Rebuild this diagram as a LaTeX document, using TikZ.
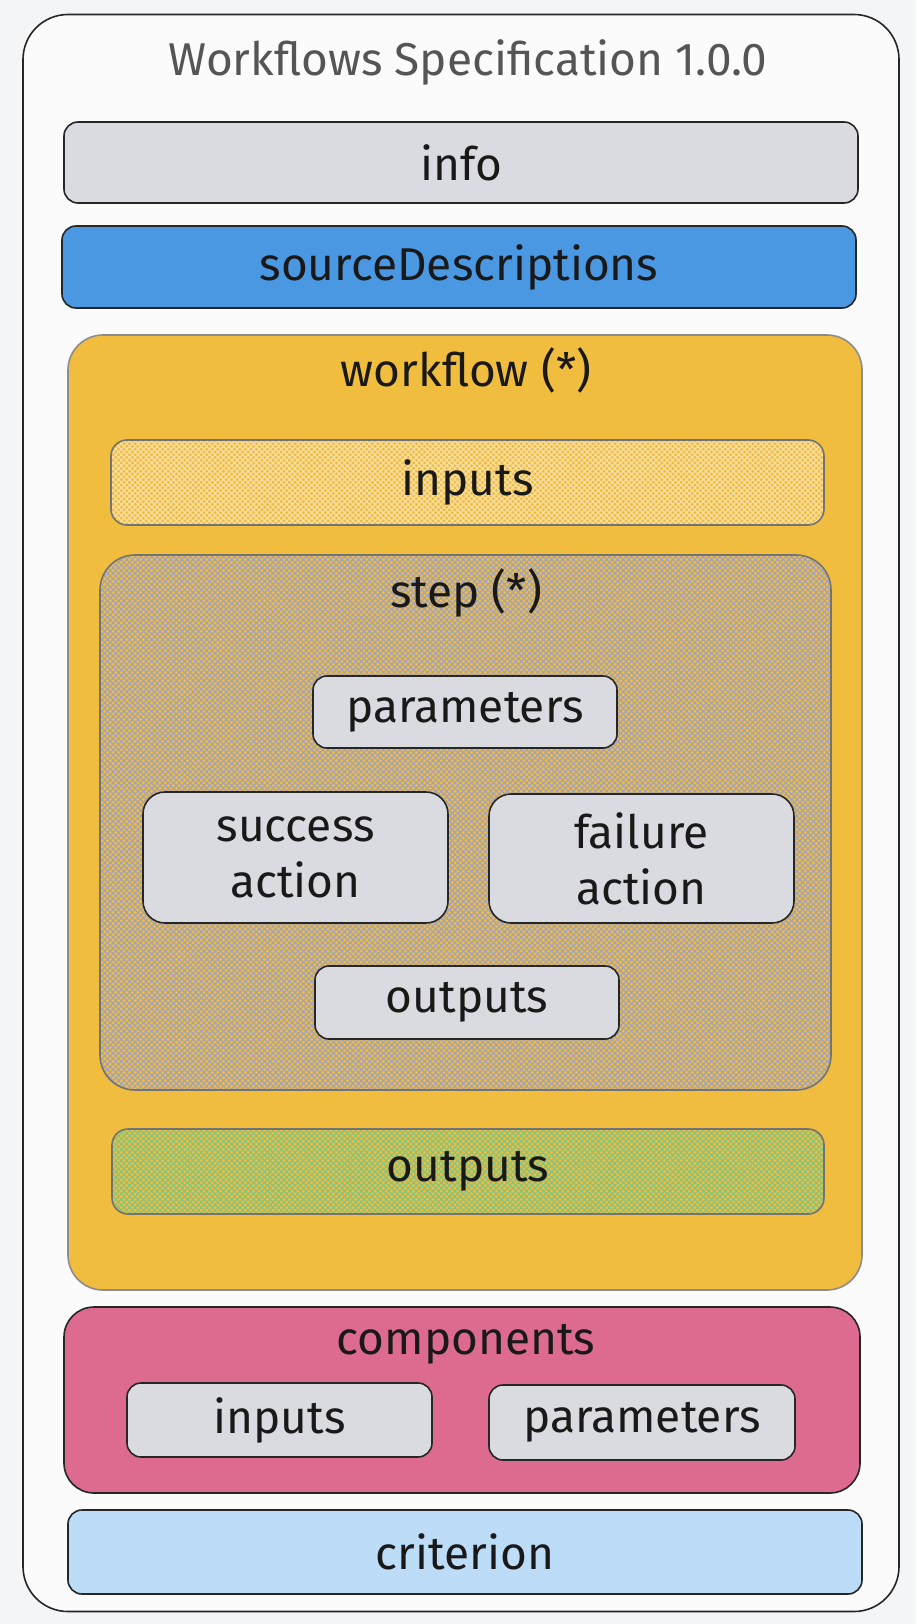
\documentclass[tikz,border=0pt]{standalone}
\usepackage{fontspec}
\setmainfont{Fira Sans}
\usetikzlibrary{patterns.meta}

\definecolor{bggrey}{HTML}{F4F5F7}
\definecolor{boxgrey}{HTML}{D9DBE0}
\definecolor{srcblue}{HTML}{4A98E2}
\definecolor{wfyellow}{HTML}{F1BD3F}
\definecolor{hatchlight}{HTML}{F6DFA6}
\definecolor{hatchgrey}{HTML}{A2A3BA}
\definecolor{hatchgreen}{HTML}{86C37E}
\definecolor{comppink}{HTML}{DD6A8F}
\definecolor{critblue}{HTML}{BCDCF8}
\definecolor{titlegrey}{HTML}{555555}

\tikzset{
  every node/.style={inner sep=0pt, font=\fontsize{46}{56}\selectfont, text=black!90},
  box/.style={draw=black!85, line width=1.6pt, rounded corners=14pt, align=center},
  greybox/.style={box, fill=boxgrey},
  hatched/.style={box, draw=black!55, preaction={fill=wfyellow},
    pattern={Hatch[angle=45,distance=3.9pt,line width=1.2pt]}, pattern color=#1},
  heading/.style={anchor=center}
}

\begin{document}
\begin{tikzpicture}[x=1pt,y=-1pt]
\useasboundingbox [fill=bggrey] (0,0) rectangle (916,1624);
% outer frame
\node [box, fill=white!60!bggrey, rounded corners=45pt, minimum width=876pt, minimum height=1597pt] (spec) at (461,813) {};
\node [heading, text=titlegrey] (spectitle) at (468,62) {Workflows Specification 1.0.0};
\node [greybox, minimum width=794pt, minimum height=81pt] (info) at (461,162.5) {info};
\node [box, fill=srcblue, minimum width=794pt, minimum height=82pt] (src) at (459,267) {sourceDescriptions};
% workflow
\node [box, fill=wfyellow, draw=black!45, rounded corners=35pt, minimum width=794pt, minimum height=955pt] (wf) at (465,812.5) {};
\node [heading] (wftitle) at (466,370) {workflow (*)};
\node [hatched=hatchlight, rounded corners=16pt, minimum width=713pt, minimum height=85pt] (wfinputs) at (467.5,482.5) {inputs};
% step
\node [hatched=hatchgrey, rounded corners=35pt, minimum width=731pt, minimum height=535pt] (step) at (465.5,822.5) {};
\node [heading] (steptitle) at (466,593) {step (*)};
\node [greybox, minimum width=304pt, minimum height=72pt] (stepparams) at (465,712) {parameters};
\node [greybox, rounded corners=22pt, minimum width=305pt, minimum height=131pt] (success) at (295.5,857.5) {success\\action};
\node [greybox, rounded corners=22pt, minimum width=305pt, minimum height=129pt] (failure) at (641.5,858.5) {failure\\action};
\node [greybox, minimum width=304pt, minimum height=73pt] (stepoutputs) at (467,1002.5) {outputs};
\node [hatched=hatchgreen, rounded corners=16pt, minimum width=712pt, minimum height=85pt] (wfoutputs) at (468,1171.5) {outputs};
% components
\node [box, fill=comppink, rounded corners=30pt, minimum width=796pt, minimum height=186pt] (comp) at (462,1400) {};
\node [heading] (comptitle) at (466,1344) {components};
\node [greybox, minimum width=305pt, minimum height=74pt] (compinputs) at (279.5,1420) {inputs};
\node [greybox, minimum width=306pt, minimum height=75pt] (compparams) at (642,1422.5) {parameters};
\node [box, fill=critblue, minimum width=794pt, minimum height=84pt] (crit) at (465,1552) {criterion};
\end{tikzpicture}
\end{document}
